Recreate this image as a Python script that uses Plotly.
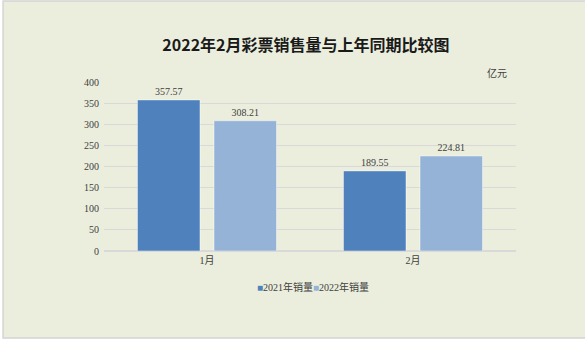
import plotly.graph_objects as go

# Lottery sales, Jan/Feb, 2021 vs 2022 (unit: 亿元)
months = ["1月", "2月"]
sales_2021 = [357.57, 189.55]
sales_2022 = [308.21, 224.81]
series_names = ["2021年销量", "2022年销量"]
series_colors = ["#4f81bd", "#95b3d7"]
y_ticks = [0, 50, 100, 150, 200, 250, 300, 350, 400]

BG = "#ebeedd"
SERIF = "Liberation Serif, Noto Sans CJK SC, serif"
TEXT = "#404040"

fig = go.Figure()
for name, vals, color in zip(series_names, [sales_2021, sales_2022], series_colors):
    fig.add_trace(go.Bar(
        x=months, y=vals, name=name,
        marker=dict(color=color, line=dict(color="rgba(255,255,255,0.45)", width=1)),
        text=[f"{v:.2f}" for v in vals],
        textposition="outside",
        cliponaxis=False,
        textfont=dict(family=SERIF, size=10, color=TEXT),
    ))

# framed background panel
fig.add_shape(type="rect", xref="paper", yref="paper",
              x0=-0.245, x1=1.2, y0=-0.515, y1=1.479,
              fillcolor=BG, line=dict(color="#d4d4d4", width=1.5), layer="below")

# compact legend: coloured square followed directly by the series name
legend_text = "".join(
    f"<span style='color:{c}'>■</span>{n}" for n, c in zip(series_names, series_colors)
)

fig.update_layout(
    width=585, height=342,
    margin=dict(l=104, r=69, t=82, b=91),
    paper_bgcolor="white",
    plot_bgcolor=BG,
    barmode="group",
    bargap=0.257,
    bargroupgap=0.183,
    showlegend=False,
    title=dict(
        text="2022年2月彩票销售量与上年同期比较图",
        x=0.523, xanchor="center",
        y=1 - 45 / 342, yref="container", yanchor="middle",
        font=dict(family="Noto Sans CJK SC", size=16, color="#1a1a1a", weight="bold"),
    ),
    font=dict(family=SERIF, size=10, color=TEXT),
    xaxis=dict(
        showgrid=False, showline=True, linecolor="#d9d9d9", linewidth=1,
        ticks="", tickfont=dict(family=SERIF, size=10, color=TEXT),
    ),
    yaxis=dict(
        range=[0, 400], tickvals=y_ticks, showgrid=True, gridcolor="#d9d9d9",
        gridwidth=1, zeroline=True, zerolinecolor="#d9d9d9", showline=False,
        ticks="", ticklabelstandoff=4,
        tickfont=dict(family=SERIF, size=10, color=TEXT),
    ),
    annotations=[
        dict(text="亿元", xref="paper", yref="paper", x=0.954, y=1.053,
             showarrow=False, font=dict(family=SERIF, size=10, color=TEXT),
             xanchor="center", yanchor="middle"),
        dict(text=legend_text, xref="paper", yref="paper", x=0.507, y=-0.213,
             showarrow=False, font=dict(family=SERIF, size=10, color=TEXT),
             xanchor="center", yanchor="middle"),
    ],
)

fig.write_html("out.html")
